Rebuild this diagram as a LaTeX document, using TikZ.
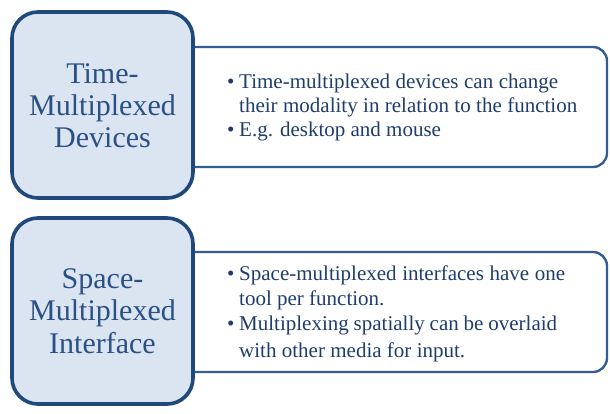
\documentclass[tikz,border=0pt]{standalone}
\usepackage{fontspec}
\setmainfont{Liberation Serif}
\usetikzlibrary{shadows}
\definecolor{boxfill}{HTML}{DBE5F1}
\definecolor{boxline}{HTML}{1F487C}
\definecolor{panelline}{HTML}{335D92}
\definecolor{headtext}{HTML}{2A5085}
\definecolor{bodytext}{HTML}{1F3D6B}
\tikzset{
  headbox/.style={draw=boxline, line width=3.6pt, fill=boxfill, rounded corners=26pt,
    minimum width=181pt, minimum height=186pt, inner sep=0pt,
    drop shadow={shadow xshift=1.2pt, shadow yshift=-1.6pt, opacity=0.35, fill=black!60}},
  panel/.style={draw=panelline, line width=2.4pt, rounded corners=14pt},
  headline/.style={anchor=base, inner sep=0pt, text=headtext, font=\fontsize{30}{32}\selectfont},
  bodyline/.style={anchor=base west, inner sep=0pt, text=bodytext, font=\fontsize{21}{24}\selectfont},
}
\newcommand{\bul}{\makebox[12pt][l]{\textbullet}}
\begin{document}
\begin{tikzpicture}[x=1pt,y=-1pt]
\useasboundingbox (0,0) rectangle (610,413);
% panels (left ends hidden behind head boxes)
\draw[panel] (150,47) -- (607,47) -- (607,167) -- (150,167);
\draw[panel] (150,252) -- (607,252) -- (607,372) -- (150,372);
% head boxes
\node[headbox] (tmbox) at (102.5,105) {};
\node[headbox] (smbox) at (102.5,311) {};
% head texts
\node[headline] (tm1) at (102.5,83) {Time-};
\node[headline] (tm2) at (102.5,115) {Multiplexed};
\node[headline] (tm3) at (102.5,147) {Devices};
\node[headline] (sm1) at (102.5,288) {Space-};
\node[headline] (sm2) at (102.5,320) {Multiplexed};
\node[headline] (sm3) at (102.5,353) {Interface};
% body texts top
\node[bodyline] (t1) at (227,88) {\bul\makebox[319pt][s]{Time-multiplexed devices can change}};
\node[bodyline] (t2) at (239,112) {\makebox[338pt][s]{their modality in relation to the function}};
\node[bodyline] (t3) at (227,136) {\bul E.g. desktop and mouse};
% body texts bottom
\node[bodyline] (s1) at (227,280) {\bul\makebox[326pt][s]{Space-multiplexed interfaces have one}};
\node[bodyline] (s2) at (239,305) {tool per function.};
\node[bodyline] (s3) at (227,330) {\bul\makebox[318pt][s]{Multiplexing spatially can be overlaid}};
\node[bodyline] (s4) at (239,357) {\makebox[226pt][s]{with other media for input.}};
\end{tikzpicture}
\end{document}
